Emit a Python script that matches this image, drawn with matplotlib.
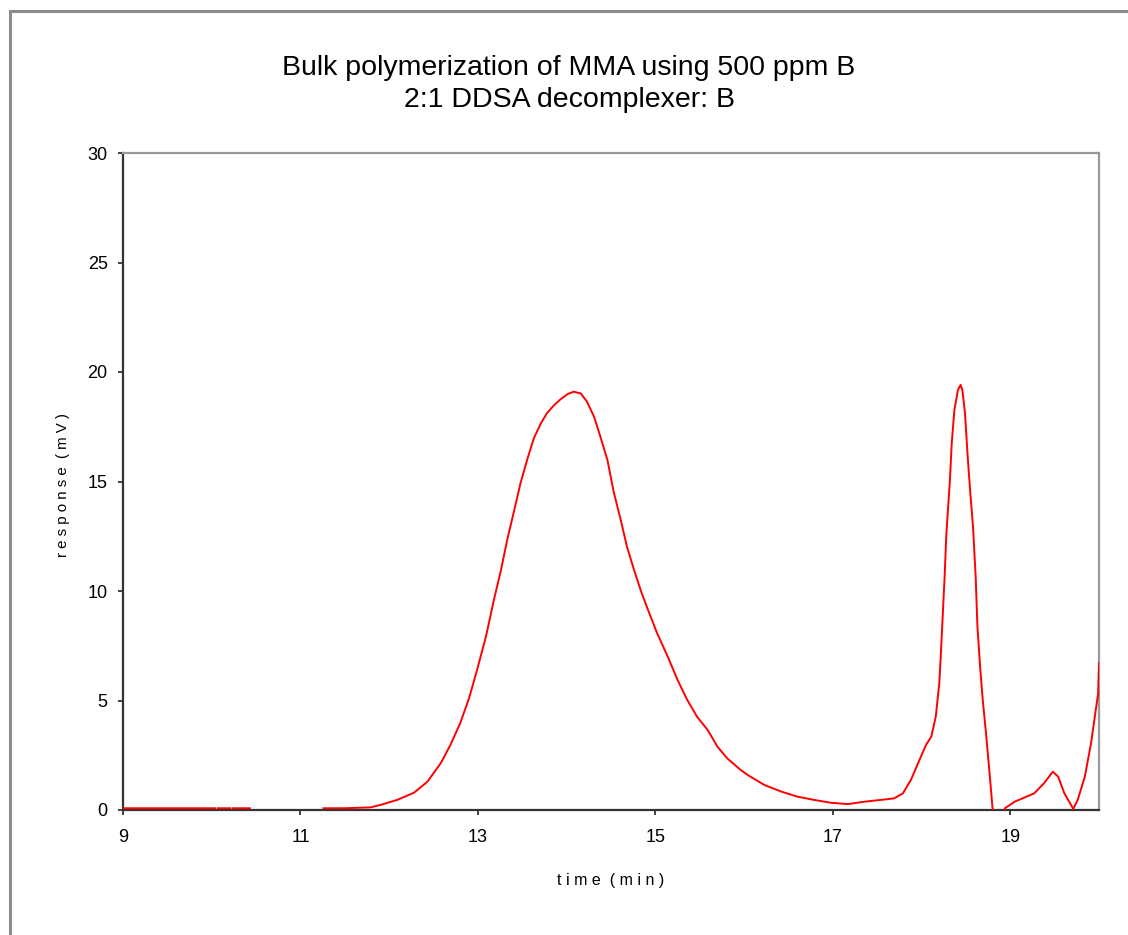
import numpy as np
import matplotlib
matplotlib.use("Agg")
import matplotlib.pyplot as plt
from matplotlib.patches import Rectangle

nan = np.nan
time_min = [9.0, 9.5, 10.04, nan, 10.07, 10.21, nan, 10.24, 10.43, nan,
            11.26, 11.5, 11.79, 11.90, 12.09, 12.28, 12.43, 12.58, 12.69, 12.80,
            12.90, 12.99, 13.09, 13.18, 13.26, 13.33, 13.41, 13.48, 13.56, 13.63,
            13.71, 13.78, 13.86, 13.93, 14.01, 14.08, 14.16, 14.23, 14.31, 14.38,
            14.46, 14.53, 14.61, 14.68, 14.76, 14.84, 14.91, 15.02, 15.14, 15.25,
            15.36, 15.47, 15.59, 15.70, 15.81, 15.96, 16.04, 16.23, 16.42, 16.60,
            16.79, 16.98, 17.17, 17.36, 17.54, 17.69, 17.79, 17.88, 17.96, 18.05,
            18.11, 18.16, 18.20, 18.22, 18.24, 18.26, 18.28, 18.32, 18.34, 18.37,
            18.41, 18.44, 18.46, 18.49, 18.52, 18.55, 18.58, 18.61, 18.63, 18.66,
            18.69, 18.73, 18.77, 18.80, 18.87, 18.94, 19.05, 19.27, 19.38, 19.48,
            19.54, 19.61, 19.71, 19.76, 19.84, 19.91, 19.99, 20.0]
response_mv = [0.08, 0.08, 0.08, nan, 0.08, 0.08, nan, 0.08, 0.08, nan,
               0.08, 0.08, 0.12, 0.23, 0.46, 0.79, 1.29, 2.13, 2.97, 3.96,
               5.10, 6.39, 7.91, 9.59, 10.96, 12.33, 13.70, 14.92, 16.06, 16.97,
               17.66, 18.13, 18.49, 18.75, 18.99, 19.10, 19.02, 18.64, 17.95, 17.05,
               15.98, 14.53, 13.24, 12.02, 10.96, 9.97, 9.21, 8.07, 7.00, 5.94,
               5.02, 4.26, 3.65, 2.89, 2.36, 1.83, 1.60, 1.14, 0.84, 0.61,
               0.46, 0.33, 0.27, 0.38, 0.46, 0.53, 0.76, 1.37, 2.13, 2.97,
               3.35, 4.26, 5.78, 7.31, 8.98, 10.65, 12.63, 15.07, 16.74, 18.26,
               19.18, 19.41, 19.18, 18.11, 16.13, 14.46, 12.94, 10.65, 8.37, 6.54,
               5.02, 3.35, 1.52, 0.08, -0.5, 0.08, 0.38, 0.76, 1.22, 1.75,
               1.52, 0.76, 0.05, 0.46, 1.52, 3.04, 5.32, 6.70]

x_ticks = [9, 11, 13, 15, 17, 19]
y_ticks = [0, 5, 10, 15, 20, 25, 30]
title_lines = ["Bulk polymerization of MMA using 500 ppm B", "2:1 DDSA decomplexer: B"]

plt.rcParams['font.family'] = ['Liberation Sans', 'DejaVu Sans']

W, H = 1128, 935
fig = plt.figure(figsize=(W / 100, H / 100), dpi=100)
fig.patch.set_facecolor('white')

# outer chart frame (cropped at right/bottom)
fig.patches.append(Rectangle((9.5 / W, -0.05), 1.2, (H - 10.5) / H + 0.05,
                             transform=fig.transFigure, fill=False,
                             edgecolor='#8c8c8c', lw=2.2, zorder=0))

ax = fig.add_axes([123 / W, 1 - 810 / H, (1099 - 123) / W, (810 - 153) / H])
ax.plot(time_min, response_mv, color='#ff0000', lw=1.4, zorder=3)
ax.set_xlim(9, 20)
ax.set_ylim(0, 30)
ax.set_xticks(x_ticks)
ax.set_yticks(y_ticks)
ax.tick_params(direction='out', length=3.5, width=1.2, color='#222222',
               labelsize=13)
ax.tick_params(axis='x', pad=10)
ax.tick_params(axis='y', pad=7.5)
for s in ['left', 'bottom']:
    ax.spines[s].set_color('#333333')
    ax.spines[s].set_linewidth(1.6)
for s in ['top', 'right']:
    ax.spines[s].set_color('#999999')
    ax.spines[s].set_linewidth(1.6)

fig.text(63 / W, 1 - 485 / H, "r e s p o n s e  ( m V )", rotation=90,
         ha='center', va='center', fontsize=10.8)
fig.text(611 / W, 1 - 880 / H, "t i m e  ( m i n )", ha='center', va='center',
         fontsize=11.5)
fig.text(569 / W, 1 - 68 / H, title_lines[0], ha='center', va='center', fontsize=20.5)
fig.text(569 / W, 1 - 100 / H, title_lines[1], ha='center', va='center', fontsize=20.5)

fig.savefig("out.png", dpi=100)
